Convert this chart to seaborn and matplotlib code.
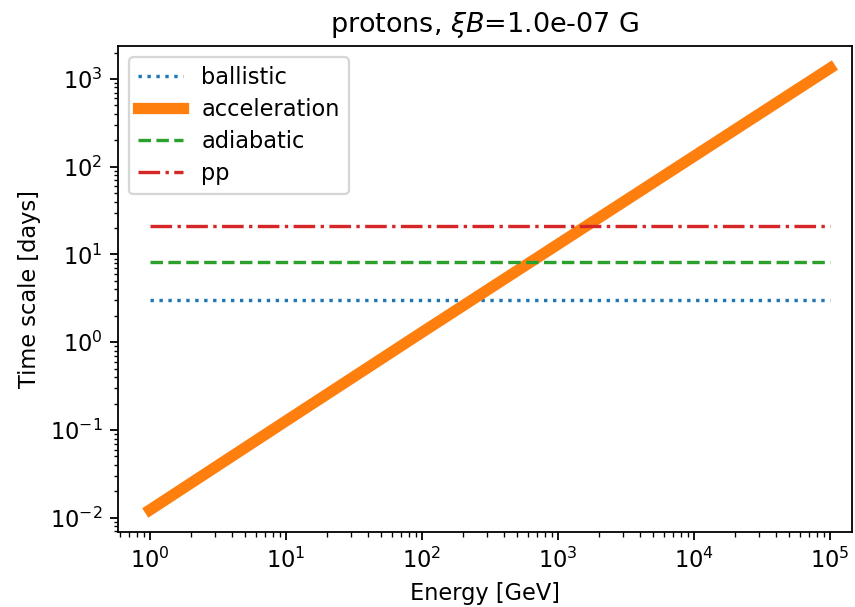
import numpy as np
import pandas as pd
import matplotlib
matplotlib.use("Agg")
import matplotlib.pyplot as plt
import seaborn as sns

energy = [1.0, 10.0, 100.0, 1000.0, 10000.0, 100000.0]
ballistic = [3.0, 3.0, 3.0, 3.0, 3.0, 3.0]
acceleration = [0.0123, 0.127, 1.3, 13.1, 132.0, 1330.0]
adiabatic = [8.2, 8.2, 8.2, 8.2, 8.2, 8.2]
pp = [21.2, 21.2, 21.2, 21.2, 21.2, 21.2]

labels = ["ballistic", "acceleration", "adiabatic", "pp"]
series = [ballistic, acceleration, adiabatic, pp]
colors = ["#1f77b4", "#ff7f0e", "#2ca02c", "#d62728"]
styles = [":", "-", "--", "-."]
widths = [1.5, 5, 1.5, 1.5]

plt.rcParams["font.family"] = ["DejaVu Sans"]
plt.rcParams["font.size"] = 10

DPI = 162
fig = plt.figure(figsize=(855 / DPI, 607 / DPI), dpi=DPI)
ax = fig.add_axes([118 / 855, 1 - 532 / 607, (852 - 118) / 855, (532 - 46) / 607])

for lab, vals, c, ls, lw in zip(labels, series, colors, styles, widths):
    df = pd.DataFrame({"E": energy, "t": vals})
    sns.lineplot(data=df, x="E", y="t", ax=ax, color=c, linestyle=ls,
                 linewidth=lw, label=lab)

ax.set_xscale("log")
ax.set_yscale("log")
ax.set_xlim(10 ** -0.235, 10 ** 5.16)
ax.set_xlabel("Energy [GeV]")
ax.set_ylabel("Time scale [days]")
ax.set_title(r"protons, $\xi B$=1.0e-07 G")
ax.legend(loc="upper left", labelspacing=0.4)

fig.savefig("out.png", dpi=DPI)
